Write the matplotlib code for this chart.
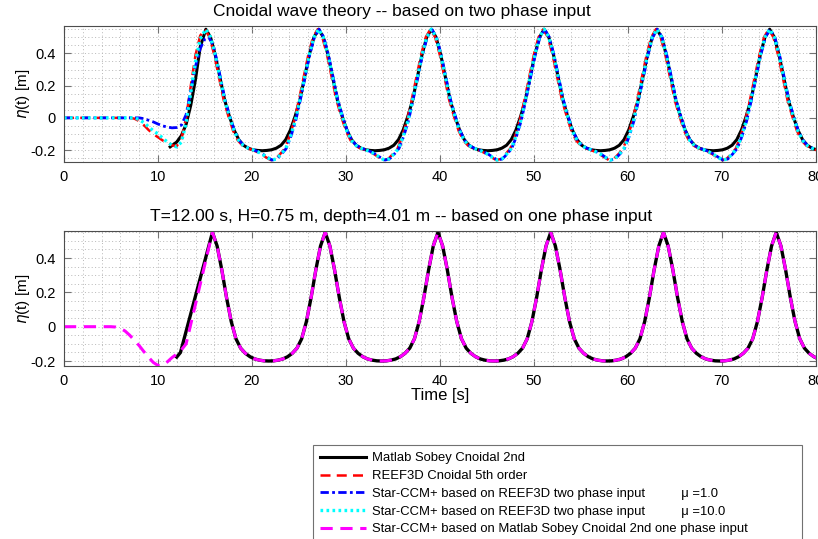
import numpy as np
import matplotlib
matplotlib.use('Agg')
import matplotlib.pyplot as plt
from matplotlib.ticker import MultipleLocator

plt.rcParams['font.family'] = ['Liberation Sans', 'DejaVu Sans']
plt.rcParams['axes.unicode_minus'] = False

PERIOD = 12.0   # wave period [s]
STEP = 0.5      # sample spacing of the period tables [s]
T_END = 80.0

# one wave period, crest to crest, every STEP seconds [m]
sobey_two_phase = [0.55, 0.50, 0.39, 0.25, 0.11, 0.01, -0.075, -0.135, -0.17, -0.188, -0.198, -0.202,
                   -0.204, -0.202, -0.198, -0.188, -0.17, -0.135, -0.075, 0.01, 0.11, 0.25, 0.39, 0.50]
cfd_two_phase = [0.55, 0.50, 0.39, 0.25, 0.11, 0.01, -0.08, -0.14, -0.172, -0.188, -0.198, -0.21,
                 -0.225, -0.245, -0.262, -0.255, -0.225, -0.19, -0.115, -0.02, 0.11, 0.25, 0.39, 0.50]
sobey_one_phase = [0.55, 0.47, 0.33, 0.17, 0.03, -0.07, -0.125, -0.155, -0.175, -0.188, -0.195, -0.199,
                   -0.20, -0.199, -0.195, -0.188, -0.175, -0.155, -0.125, -0.07, 0.03, 0.17, 0.33, 0.47]

# time of the first full crest [s]
crest_sobey_top = 15.1
crest_reef = 15.0
crest_mu1 = 15.15
crest_mu10 = 15.1
crest_sobey_bottom = 15.8
crest_one_phase = 15.8

# ramp-up before the first full wave: time [s], elevation [m]
sobey_top_start_t = [11.3, 12.0, 12.5, 13.0, 13.5, 14.0, 14.5]
sobey_top_start = [-0.18, -0.15, -0.11, -0.04, 0.08, 0.24, 0.44]
reef_start_t = [0, 7, 7.5, 8, 8.5, 9, 9.5, 10, 10.5, 11, 11.5, 12, 12.5, 13, 13.5, 14, 14.5]
reef_start = [0, 0, -0.005, -0.02, -0.045, -0.075, -0.1, -0.12, -0.14, -0.155, -0.17, -0.175,
              -0.13, 0.0, 0.2, 0.39, 0.51]
mu1_start_t = [0, 8, 8.5, 9, 9.5, 10, 10.5, 11, 11.5, 12, 12.5, 13, 13.5, 14, 14.5, 15.0, 15.4, 15.9, 16.4]
mu1_start = [0, 0, -0.005, -0.015, -0.025, -0.038, -0.05, -0.057, -0.062, -0.06, -0.045, 0.02,
             0.17, 0.32, 0.43, 0.49, 0.50, 0.45, 0.32]
mu10_start_t = [0, 7.5, 8, 8.5, 9, 9.5, 10, 10.5, 11, 11.5, 12, 12.5, 13, 13.5, 14, 14.5]
mu10_start = [0, 0, -0.01, -0.03, -0.055, -0.08, -0.1, -0.125, -0.15, -0.17, -0.18, -0.15,
              -0.03, 0.16, 0.35, 0.49]
sobey_bottom_start_t = [12.0, 12.4]
sobey_bottom_start = [-0.177, -0.15]
one_phase_start_t = [0, 5, 5.5, 6, 6.5, 7, 7.5, 8, 8.5, 9, 9.5, 10, 10.5, 11, 11.5, 12, 12.5, 13]
one_phase_start = [0, 0, -0.002, -0.01, -0.025, -0.05, -0.08, -0.11, -0.145, -0.178, -0.208, -0.226,
                   -0.225, -0.205, -0.18, -0.16, -0.135, -0.10]

x_ticks = [0, 10, 20, 30, 40, 50, 60, 70, 80]
y_ticks = [-0.2, 0, 0.2, 0.4]
y_tick_labels = ['-0.2', '0', '0.2', '0.4']

labels = ['Matlab Sobey Cnoidal 2nd',
          'REEF3D Cnoidal 5th order',
          'Star-CCM+ based on REEF3D two phase input          \u03bc =1.0',
          'Star-CCM+ based on REEF3D two phase input          \u03bc =10.0',
          'Star-CCM+ based on Matlab Sobey Cnoidal 2nd one phase input']


def wave_series(start_t, start_eta, profile, crest):
    """
    Pega el tramo inicial con la serie periodica que arranca en la cresta dada.
    """
    offsets = np.arange(len(profile)) * STEP
    t = []
    eta = []
    k = 0
    while crest + k * PERIOD <= T_END:
        t.extend(crest + k * PERIOD + offsets)
        eta.extend(profile)
        k += 1
    t = np.array(t)
    eta = np.array(eta)
    keep = (t > start_t[-1]) & (t <= T_END + STEP)
    return np.concatenate([start_t, t[keep]]), np.concatenate([start_eta, eta[keep]])


def style_axes(ax, ylim, title):
    ax.set_xlim(0, T_END)
    ax.set_ylim(*ylim)
    ax.set_xticks(x_ticks)
    ax.set_yticks(y_ticks)
    ax.set_yticklabels(y_tick_labels)
    ax.xaxis.set_minor_locator(MultipleLocator(2))
    ax.yaxis.set_minor_locator(MultipleLocator(0.05))
    ax.grid(which='both', linestyle=(0, (1, 2.5)), color='0.72', linewidth=0.7)
    ax.set_axisbelow(True)
    ax.tick_params(which='major', direction='in', length=5, width=0.8, color='0.45',
                   top=True, right=True, labelsize=10.5, pad=6)
    ax.tick_params(which='minor', length=0)
    for s in ax.spines.values():
        s.set_color('0.3')
        s.set_linewidth(0.8)
    ax.set_ylabel('$\\eta$(t) [m]', fontsize=11, labelpad=-1)
    # el titulo va un poco a la izquierda del centro de los ejes
    ax.set_title(title, fontsize=12.5, x=0.449, pad=7)


fig = plt.figure(figsize=(8.18, 5.39), dpi=100)
ax1 = fig.add_axes([0.0782, 0.700, 0.919, 0.2518])
ax2 = fig.add_axes([0.0782, 0.321, 0.919, 0.2505])

t, eta = wave_series(sobey_top_start_t, sobey_top_start, sobey_two_phase, crest_sobey_top)
h1, = ax1.plot(t, eta, color='k', linewidth=2.2)
t, eta = wave_series(reef_start_t, reef_start, cfd_two_phase, crest_reef)
h2, = ax1.plot(t, eta, color='#ff0000', linewidth=1.8, dashes=(4, 2.5))
t, eta = wave_series(mu1_start_t, mu1_start, cfd_two_phase, crest_mu1)
h3, = ax1.plot(t, eta, color='#0000ff', linewidth=2.0, dashes=(3, 1.2, 1, 1.2))
t, eta = wave_series(mu10_start_t, mu10_start, cfd_two_phase, crest_mu10)
h4, = ax1.plot(t, eta, color='#00ffff', linewidth=2.4, dashes=(0.8, 1.0))
style_axes(ax1, (-0.272, 0.57), 'Cnoidal wave theory -- based on two phase input')

t, eta = wave_series(sobey_bottom_start_t, sobey_bottom_start, sobey_one_phase, crest_sobey_bottom)
ax2.plot(t, eta, color='k', linewidth=2.4)
t, eta = wave_series(one_phase_start_t, one_phase_start, sobey_one_phase, crest_one_phase)
h5, = ax2.plot(t, eta, color='#ff00ff', linewidth=2.2, dashes=(4, 2.5))
style_axes(ax2, (-0.229, 0.558), 'T=12.00 s, H=0.75 m, depth=4.01 m -- based on one phase input')
ax2.set_xlabel('Time [s]', fontsize=12, labelpad=0)

leg = fig.legend([h1, h2, h3, h4, h5], labels, loc='upper left',
                 bbox_to_anchor=(313 / 818, 4 / 539, 489 / 818, 90 / 539), mode='expand',
                 fontsize=9.4, frameon=True, fancybox=False, edgecolor='0.3',
                 handlelength=3.5, handletextpad=0.5, borderpad=0.55, labelspacing=0.43,
                 borderaxespad=0)
leg.get_frame().set_linewidth(0.8)

fig.savefig('out.png', dpi=100)
